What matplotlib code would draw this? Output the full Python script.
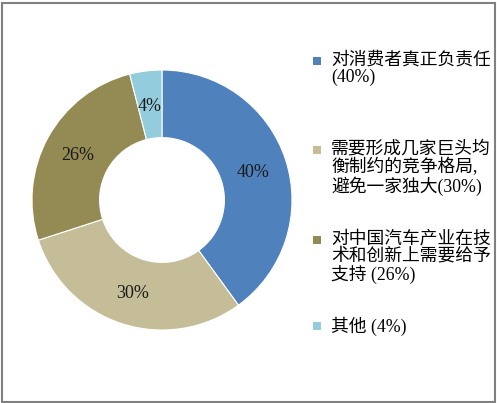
import matplotlib
matplotlib.use("Agg")
import matplotlib.pyplot as plt
from matplotlib.patches import Rectangle

categories = ["对消费者真正负责任", "需要形成几家巨头均衡制约的竞争格局,避免一家独大",
              "对中国汽车产业在技术和创新上需要给予支持", "其他"]
values = [40, 30, 26, 4]
colors = ["#4F81BD", "#C4BD97", "#948A54", "#93CDDD"]
legend_lines = [
    "对消费者真正负责任\n(40%)",
    "需要形成几家巨头均\n衡制约的竞争格局,\n避免一家独大(30%)",
    "对中国汽车产业在技\n术和创新上需要给予\n支持 (26%)",
    "其他 (4%)",
]

W, H = 497, 403
fig = plt.figure(figsize=(W / 100, H / 100), dpi=100)
fig.patch.set_facecolor("white")

# border
fig.add_artist(Rectangle((1.5 / W, 1.5 / H), (W - 4) / W, (H - 4) / H,
                         transform=fig.transFigure, fill=False,
                         edgecolor="#808080", linewidth=1.5))

cx, cy, r = 162, 200, 130
ax = fig.add_axes([(cx - r) / W, (H - cy - r) / H, 2 * r / W, 2 * r / H])
wedges, texts = ax.pie(values, colors=colors, startangle=90, counterclock=False,
                       radius=1.0, wedgeprops=dict(width=0.52, edgecolor="white", linewidth=0.8),
                       labels=[f"{v}%" for v in values], labeldistance=0.74)
for t in texts:
    t.set_ha("center")
    t.set_va("center_baseline")
    t.set_fontfamily("Liberation Serif")
    t.set_fontsize(13)
    t.set_color("#1a1a1a")
ax.set_xlim(-1, 1)
ax.set_ylim(-1, 1)
ax.set_aspect("equal")
ax.axis("off")

# legend
first_line_y = [61, 150, 240, 326]
for lab, col, y in zip(legend_lines, colors, first_line_y):
    fig.add_artist(Rectangle((313 / W, (H - y - 4) / H), 8 / W, 8 / H,
                             transform=fig.transFigure, facecolor=col, edgecolor="none"))
    fig.text(331 / W, (H - y + 9.5) / H, lab, ha="left", va="top",
             fontsize=12.8, linespacing=1.02, weight="medium",
             family=["Liberation Serif", "Noto Sans CJK SC"], color="black")

fig.savefig("out.png", dpi=100, facecolor="white")
